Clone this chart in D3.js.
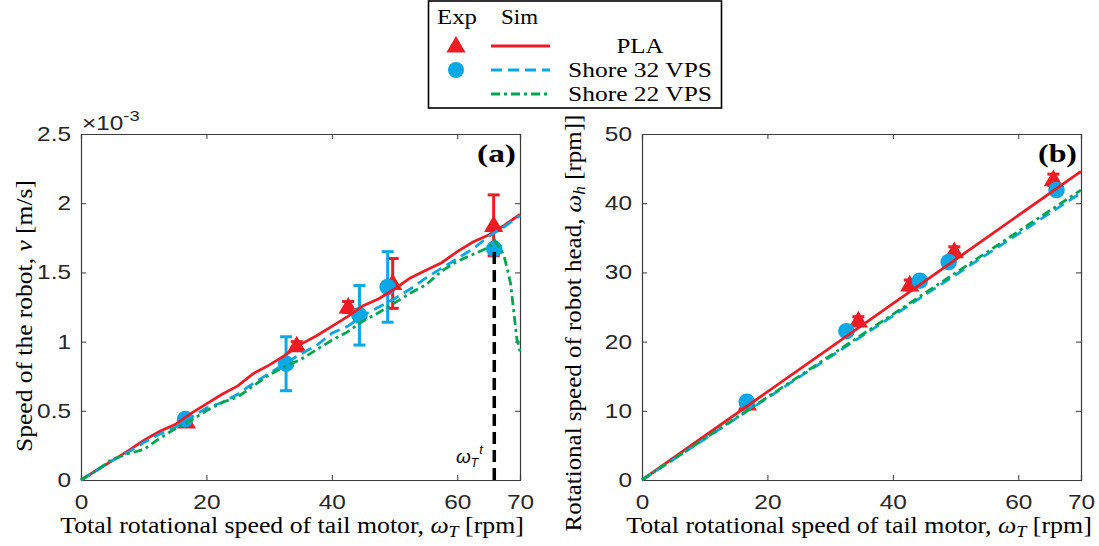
<!DOCTYPE html>
<html>
<head>
<meta charset="utf-8">
<script src="https://cdn.jsdelivr.net/npm/d3@7"></script>
<style>
  html, body { margin: 0; padding: 0; background: #fff; }
  svg { display: block; }
</style>
</head>
<body>
<svg id="fig" width="1099" height="546"></svg>
<script>
// ---- Panel (a): robot speed v [x10^-3 m/s] vs tail motor speed [rpm] ----
const simRpm = [0,2.5,5,7.5,10,12.5,15,17.5,20,22.5,25,27.5,30,32.5,35,37.5,40,42.5,45,47.5,50,52.5,55,57.5,60,62.5,65,67.5,70];
const simSpeedPLA = [0,0.07,0.14,0.21,0.285,0.35,0.40,0.48,0.55,0.62,0.68,0.77,0.83,0.90,0.98,1.04,1.11,1.18,1.26,1.31,1.38,1.46,1.515,1.57,1.65,1.72,1.77,1.84,1.92];
const simSpeedS32 = [0,0.07,0.14,0.20,0.27,0.33,0.38,0.45,0.52,0.56,0.62,0.70,0.77,0.84,0.91,0.97,1.06,1.11,1.19,1.25,1.31,1.38,1.46,1.53,1.60,1.67,1.76,1.83,1.91];
const simRpmS22 = [0,2.5,5,7.5,10,12.5,15,17.5,20,22.5,25,27.5,30,32.5,35,37.5,40,42.5,45,47.5,50,52.5,55,57.5,60,62.5,65,66,67,67.5,68,68.5,69,69.5,70];
const simSpeedS22 = [0,0.07,0.15,0.19,0.22,0.30,0.37,0.43,0.50,0.56,0.60,0.68,0.76,0.82,0.87,0.94,1.01,1.07,1.15,1.21,1.28,1.35,1.41,1.51,1.58,1.63,1.68,1.73,1.66,1.61,1.52,1.42,1.22,1.02,0.93];

const expRpmPLA = [16.8,34.4,42.6,49.7,65.8];
const expSpeedPLA = [0.42,0.97,1.25,1.42,1.84];
const expSpeedPLAErr = [0.01,0.03,0.04,0.18,0.22];
const expRpmS32 = [16.6,32.7,44.4,48.9,65.9];
const expSpeedS32 = [0.44,0.84,1.19,1.395,1.67];
const expSpeedS32Err = [0,0.195,0.215,0.255,0];

const tippingRpm = 65.9;     // omega_T^t
const tippingSpeed = 1.69;

// ---- Panel (b): head rotational speed [rpm] vs tail motor speed [rpm] ----
const headSimRpm = [0,70];
const headSimPLA = [0,44.6];
const headSimS32 = [0,41.5];
const headSimS22 = [0,41.9];
const headExpRpmPLA = [16.8,34.5,42.7,49.8,65.6];
const headExpPLA = [11.0,23.0,28.2,33.0,43.4];
const headExpPLAErr = [0.3,0.6,0.7,0.7,0.8];
const headExpRpmS32 = [16.7,32.6,44.3,48.9,66.1];
const headExpS32 = [11.3,21.5,28.8,31.5,41.9];

const xTicks = [0,20,40,60,70];
const speedTicks = [0,0.5,1,1.5,2,2.5];
const headTicks = [0,10,20,30,40,50];

const C = { pla: "#ED1C24", s32: "#0AA8E6", s22: "#00A651", axis: "#3a3a3a", text: "#262626" };
const SERIF = "'Liberation Serif', 'Times New Roman', serif";
const SANS = "'Liberation Sans', Arial, sans-serif";
const SX = 1.22;   // horizontal text stretch used throughout the figure

const svg = d3.select("#fig");

// Text placed at (x,y) inside its own group so it can be stretched horizontally
// (optionally rotated) about its anchor point.
function label(parent, x, y, o, build) {
  const g = parent.append("g");
  const t = g.append("text").attr("text-anchor", o.anchor || "start")
    .attr("font-family", o.family || SERIF).attr("font-size", o.size)
    .attr("font-weight", o.weight || null).attr("font-style", o.style || null)
    .attr("fill", o.fill || "#000");
  if (typeof build === "string") t.text(build); else build(t);
  let sx = o.sx || SX;
  if (o.width) sx = o.width / t.node().getComputedTextLength();
  g.attr("transform", `translate(${x},${y})` + (o.rotate ? ` rotate(${o.rotate})` : "") + ` scale(${sx},1)`);
  return t;
}

function panel(cfg) {
  const x = d3.scaleLinear().domain([0,70]).range([cfg.left, cfg.right]);
  const y = d3.scaleLinear().domain(cfg.yDomain).range([cfg.bottom, cfg.top]);
  const g = svg.append("g");

  // box axes with inward ticks
  const bx = g.append("g").attr("transform", `translate(0,${cfg.bottom})`)
    .call(d3.axisBottom(x).tickValues(xTicks).tickSize(-5).tickPadding(15).tickFormat(d3.format("d")));
  g.append("g").attr("transform", `translate(0,${cfg.top})`)
    .call(d3.axisTop(x).tickValues(xTicks).tickSize(-5).tickFormat(""));
  const ly = g.append("g").attr("transform", `translate(${cfg.left},0)`)
    .call(d3.axisLeft(y).tickValues(cfg.yTicks).tickSize(-5).tickPadding(10).tickFormat(d => String(d)));
  g.append("g").attr("transform", `translate(${cfg.right},0)`)
    .call(d3.axisRight(y).tickValues(cfg.yTicks).tickSize(-5).tickFormat(""));
  g.selectAll(".domain").attr("stroke", C.axis).attr("stroke-width", 1.2);
  g.selectAll(".tick line").attr("stroke", C.axis).attr("stroke-width", 1);
  g.selectAll(".tick text").attr("font-family", SANS).attr("font-size", 20).attr("fill", C.text);
  bx.selectAll(".tick text").attr("transform", `scale(${SX},1)`);
  ly.selectAll(".tick text").attr("x", -10 / SX).attr("transform", `scale(${SX},1)`);
  return { x, y, g };
}

function errorBars(g, x, y, xs, ys, es, color) {
  const cap = 6;
  xs.forEach((xv, i) => {
    if (!es[i]) return;
    const px = x(xv), lo = y(ys[i] - es[i]), hi = y(ys[i] + es[i]);
    g.append("line").attr("x1", px).attr("x2", px).attr("y1", lo).attr("y2", hi)
      .attr("stroke", color).attr("stroke-width", 3);
    [lo, hi].forEach(py => g.append("line").attr("x1", px - cap).attr("x2", px + cap)
      .attr("y1", py).attr("y2", py).attr("stroke", color).attr("stroke-width", 3));
  });
}

function triangles(g, x, y, xs, ys) {
  const tri = d3.symbol().type(d3.symbolTriangle).size(160);
  g.selectAll(null).data(xs).join("path")
    .attr("d", tri).attr("transform", (d, i) => `translate(${x(d)},${y(ys[i]) + 1})`)
    .attr("fill", C.pla);
}
function circles(g, x, y, xs, ys) {
  g.selectAll(null).data(xs).join("circle")
    .attr("cx", d => x(d)).attr("cy", (d, i) => y(ys[i])).attr("r", 8.3)
    .attr("fill", C.s32);
}
function curve(g, x, y, xs, ys, color, dash) {
  g.append("path").datum(xs.map((d, i) => [d, ys[i]]))
    .attr("d", d3.line().x(d => x(d[0])).y(d => y(d[1])))
    .attr("fill", "none").attr("stroke", color).attr("stroke-width", 2.8)
    .attr("stroke-dasharray", dash || null);
}

const DASH = "11,6";
const DASHDOT = "9,4,3,4";

// ---------- panel (a) ----------
const A = panel({ left: 81, right: 520, top: 134, bottom: 480, yDomain: [0,2.5], yTicks: speedTicks });
errorBars(A.g, A.x, A.y, expRpmPLA, expSpeedPLA, expSpeedPLAErr, C.pla);
errorBars(A.g, A.x, A.y, expRpmS32, expSpeedS32, expSpeedS32Err, C.s32);
triangles(A.g, A.x, A.y, expRpmPLA, expSpeedPLA);
circles(A.g, A.x, A.y, expRpmS32, expSpeedS32);
curve(A.g, A.x, A.y, simRpm, simSpeedPLA, C.pla);
curve(A.g, A.x, A.y, simRpm, simSpeedS32, C.s32, DASH);
curve(A.g, A.x, A.y, simRpmS22, simSpeedS22, C.s22, DASHDOT);
A.g.append("line")
  .attr("x1", A.x(tippingRpm)).attr("x2", A.x(tippingRpm))
  .attr("y1", A.y(0)).attr("y2", A.y(tippingSpeed))
  .attr("stroke", "#000").attr("stroke-width", 3.5).attr("stroke-dasharray", "12,6");
label(A.g, 456, 463, { family: SANS, style: "italic", size: 19, sx: 1 }, t => {
  t.append("tspan").text("ω");
  t.append("tspan").attr("font-size", 12).attr("dy", 4).text("T");
  t.append("tspan").attr("font-size", 13).attr("dy", -13).attr("dx", 1).text("t");
});

// exponent label
label(A.g, 82, 130, { family: SANS, size: 20, fill: C.text }, t => {
  t.append("tspan").text("×10");
  t.append("tspan").attr("font-size", 15).attr("dy", -9).text("-3");
});

// ---------- panel (b) ----------
const B = panel({ left: 642, right: 1081, top: 134, bottom: 480, yDomain: [0,50], yTicks: headTicks });
errorBars(B.g, B.x, B.y, headExpRpmPLA, headExpPLA, headExpPLAErr, C.pla);
triangles(B.g, B.x, B.y, headExpRpmPLA, headExpPLA);
circles(B.g, B.x, B.y, headExpRpmS32, headExpS32);
curve(B.g, B.x, B.y, headSimRpm, headSimPLA, C.pla);
curve(B.g, B.x, B.y, headSimRpm, headSimS32, C.s32, DASH);
curve(B.g, B.x, B.y, headSimRpm, headSimS22, C.s22, DASHDOT);

// ---------- axis titles ----------
function omegaSub(t, sub) {
  t.append("tspan").attr("font-style", "italic").text("ω");
  t.append("tspan").attr("font-style", "italic").attr("font-size", "0.7em").attr("dy", 4).text(sub);
}
[[292, 464], [859, 466]].forEach(([cx, w]) => {
  label(svg, cx, 533, { anchor: "middle", size: 22.5, width: w }, t => {
    t.append("tspan").text("Total rotational speed of tail motor, ");
    omegaSub(t, "T");
    t.append("tspan").attr("dy", -4).text(" [rpm]");
  });
});
label(svg, 32, 316, { anchor: "middle", size: 22.5, rotate: -90, width: 272 }, t => {
  t.append("tspan").text("Speed of the robot, ");
  t.append("tspan").attr("font-style", "italic").text("v");
  t.append("tspan").text(" [m/s]");
});
label(svg, 581, 323, { anchor: "middle", size: 22.5, rotate: -90, width: 417 }, t => {
  t.append("tspan").text("Rotational speed of robot head, ");
  omegaSub(t, "h");
  t.append("tspan").attr("dy", -4).text(" [rpm]]");
});

// panel tags
[["(a)", 516], ["(b)", 1077]].forEach(([s, xr]) => {
  label(svg, xr, 162, { anchor: "end", size: 25, weight: "bold", width: 39 }, s);
});

// ---------- legend ----------
const L = svg.append("g");
L.append("rect").attr("x", 428.5).attr("y", 1).attr("width", 293).attr("height", 107)
  .attr("fill", "#fff").attr("stroke", "#000").attr("stroke-width", 1.6);
label(L, 437, 24, { size: 22, width: 40 }, "Exp");
label(L, 501, 24, { size: 22, width: 37 }, "Sim");
const legendRows = [
  { name: "PLA", y: 46, color: C.pla, dash: null, marker: "tri", w: 47 },
  { name: "Shore 32 VPS", y: 70, color: C.s32, dash: DASH, marker: "dot", w: 144 },
  { name: "Shore 22 VPS", y: 94, color: C.s22, dash: DASHDOT, marker: null, w: 144 }
];
legendRows.forEach(r => {
  if (r.marker === "tri") {
    L.append("path").attr("d", d3.symbol().type(d3.symbolTriangle).size(160))
      .attr("transform", `translate(456,${r.y + 1})`).attr("fill", r.color);
  } else if (r.marker === "dot") {
    L.append("circle").attr("cx", 456).attr("cy", r.y).attr("r", 8).attr("fill", r.color);
  }
  L.append("line").attr("x1", 491).attr("x2", 550).attr("y1", r.y).attr("y2", r.y)
    .attr("stroke", r.color).attr("stroke-width", 3).attr("stroke-dasharray", r.dash);
  label(L, 640, r.y + 7, { anchor: "middle", size: 22, width: r.w }, r.name);
});
</script>
</body>
</html>
